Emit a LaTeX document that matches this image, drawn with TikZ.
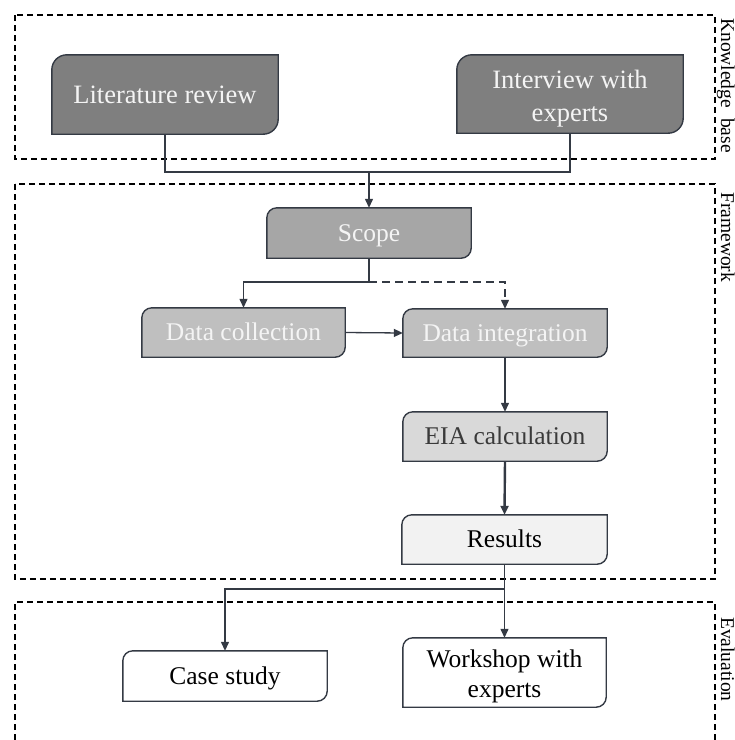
\documentclass[tikz,border=0pt]{standalone}
\usepackage{fontspec}
\setmainfont{Liberation Serif}
\usetikzlibrary{arrows.meta,backgrounds}

\definecolor{edge}{HTML}{343A44}
\definecolor{fillA}{HTML}{7F7F7F}
\definecolor{fillB}{HTML}{A6A6A6}
\definecolor{fillC}{HTML}{BFBFBF}
\definecolor{fillD}{HTML}{D9D9D9}
\definecolor{fillE}{HTML}{F2F2F2}
\definecolor{lighttext}{HTML}{F4F4F4}
\definecolor{darktext}{HTML}{3A3A3A}

% outline with rounded top-left and bottom-right corners, drawn behind the node
\newcommand\cutbox[3]{%
  \begin{scope}[on background layer]
    \path[#3] (#1.south west) -- ([yshift=-#2]#1.north west)
      arc[start angle=180, end angle=90, radius=#2]
      -- (#1.north east) -- ([yshift=#2]#1.south east)
      arc[start angle=0, end angle=-90, radius=#2] -- cycle;
  \end{scope}}

\tikzset{
  x=1pt, y=-1pt,
  stepbox/.style={inner sep=0pt, minimum width=#1},
  oneline/.style={text height=#1, text depth=0pt},
  twoline/.style={inner sep=0pt, align=center},
  bigtext/.style={font=\fontsize{26.5}{33}\selectfont},
  midtext/.style={font=\fontsize{25.5}{30}\selectfont},
  outline/.style={draw=edge, line width=1.4pt, fill=#1},
  conn/.style={draw=edge, line width=1.3pt},
  arr/.style={-{Triangle[length=9pt,width=8pt]}},
  region/.style={draw=black, line width=1.2pt, dash pattern=on 6pt off 4pt},
  sidelabel/.style={rotate=-90, anchor=base west, inner sep=0pt, font=\fontsize{19.5}{23}\selectfont}
}

\begin{document}
\begin{tikzpicture}
\useasboundingbox (0,0) rectangle (735,740);

% sections
\draw[region] (15,15) rectangle (715,159);
\draw[region] (15,184) rectangle (715,579);
\draw[region] (15,740) -- (15,602) -- (715,602) -- (715,740);
\node[sidelabel] (lblk) at (721,18) {Knowledge\hspace{10pt}base};
\node[sidelabel] (lblf) at (721,192) {Framework};
\node[sidelabel] (lble) at (721,617) {Evaluation};

% knowledge base
\node[stepbox=226pt, minimum height=79pt, bigtext, oneline=17.5pt, text=lighttext] (lit) at (165,94.5) {Literature review};
\node[stepbox=226pt, minimum height=78pt] (int) at (570,94) {};
\node[twoline, bigtext, text=lighttext] (intt) at (570,99) {Interview with\\experts};
\cutbox{lit}{15pt}{outline=fillA}
\cutbox{int}{15pt}{outline=fillA}

% framework
\node[stepbox=204pt, minimum height=50pt, midtext, oneline=16.8pt, text=lighttext] (scope) at (369,233) {Scope};
\node[stepbox=203pt, minimum height=49pt, midtext, oneline=16.8pt, text=lighttext] (dcol) at (243.5,332.5) {Data collection};
\node[stepbox=204pt, minimum height=48pt, midtext, oneline=16.8pt, text=lighttext] (dint) at (505,333) {Data integration};
\node[stepbox=204pt, minimum height=49pt, midtext, oneline=16.8pt, text=darktext] (eia) at (505,436.5) {EIA calculation};
\node[stepbox=205pt, minimum height=49pt, midtext, oneline=16.8pt, text=black] (res) at (504.5,539.5) {Results};
\cutbox{scope}{10pt}{outline=fillB}
\cutbox{dcol}{10pt}{outline=fillC}
\cutbox{dint}{10pt}{outline=fillC}
\cutbox{eia}{10pt}{outline=fillD}
\cutbox{res}{10pt}{outline=fillE}

% evaluation
\node[stepbox=204pt, minimum height=50pt, midtext, oneline=16.8pt, text=black] (case) at (225,676) {Case study};
\node[stepbox=203pt, minimum height=69pt] (work) at (504.5,672.5) {};
\node[twoline, midtext, text=black] (workt) at (504.5,676) {Workshop with\\experts};
\cutbox{case}{10pt}{outline=white}
\cutbox{work}{10pt}{outline=white}

% connectors
\coordinate (kjoin) at (369,172);
\coordinate (sjoin) at (369,282);
\coordinate (rjoin) at (504.5,589);
\draw[conn] (lit.south) |- (kjoin) -| (int.south);
\draw[conn,arr] (kjoin) -- (scope.north);
\draw[conn,arr] (scope.south) -- (sjoin) -| (dcol.north);
\draw[conn,arr,dashed,dash pattern=on 8pt off 5pt] (sjoin) -| (dint.north);
\draw[conn,arr] (dcol.east) -- (dint.west);
\draw[conn,arr] (dint.south) -- (eia.north);
\draw[conn,arr,line width=2.4pt] (eia.south) -- (res.north);
\draw[conn] (res.south) -- (rjoin);
\draw[conn,arr] (rjoin) -| (case.north);
\draw[conn,arr] (rjoin) -- (work.north);
\end{tikzpicture}
\end{document}
